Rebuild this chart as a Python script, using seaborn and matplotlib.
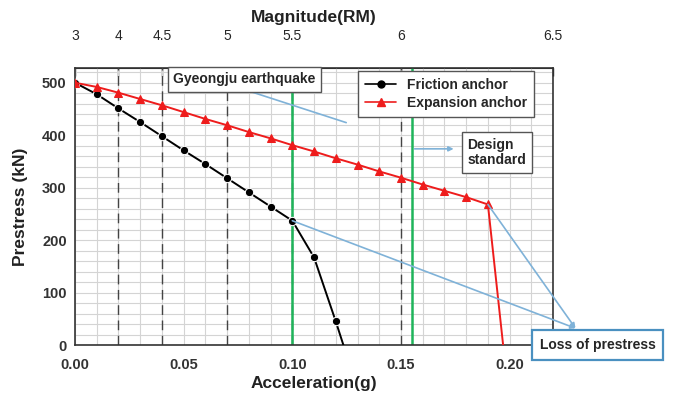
import numpy as np
import matplotlib
matplotlib.use("Agg")
import matplotlib.pyplot as plt
from matplotlib.lines import Line2D
import seaborn as sns

# acceleration (g) and prestress (kN)
friction_acc = [0.00, 0.01, 0.02, 0.03, 0.04, 0.05, 0.06, 0.07, 0.08, 0.09, 0.10, 0.11, 0.12, 0.1235]
friction_prestress = [500, 478, 451, 425, 398, 371, 345, 318, 291, 264, 237, 167, 45, 0]

expansion_acc = [0.00, 0.01, 0.02, 0.03, 0.04, 0.05, 0.06, 0.07, 0.08, 0.09, 0.10,
                 0.11, 0.12, 0.13, 0.14, 0.15, 0.16, 0.17, 0.18, 0.19, 0.197]
expansion_prestress = [500, 492, 481, 469, 457, 444, 431, 419, 406, 394, 381,
                       369, 356, 344, 331, 319, 306, 294, 282, 268, 0]

# magnitude scale on the top axis
magnitude_acc = [0.00, 0.02, 0.04, 0.07, 0.10, 0.15, 0.22]
magnitude_labels = ["3", "4", "4.5", "5", "5.5", "6", "6.5"]
dashed_acc = [0.02, 0.04, 0.07, 0.10, 0.15]

gyeongju_acc = 0.10
design_acc = 0.155

sns.set_style("white")
plt.rcParams['font.family'] = ['Liberation Sans', 'DejaVu Sans']

fig = plt.figure(figsize=(6.82, 3.98), dpi=100)
ax = fig.add_axes([0.110, 0.133, 0.701, 0.696])

ax.set_xlim(0, 0.22)
ax.set_ylim(0, 528)

# grid
ax.set_xticks(np.arange(0, 0.221, 0.05))
ax.set_xticks(np.arange(0, 0.221, 0.01), minor=True)
ax.set_yticks(np.arange(0, 501, 100))
ax.set_yticks(np.arange(0, 521, 20), minor=True)
ax.grid(which='both', color='#d4d4d4', linewidth=0.8)
ax.set_axisbelow(True)

for xv in dashed_acc:
    ax.axvline(xv, color='#444444', linestyle=(0, (7, 4)), linewidth=1.0, zorder=1)

green = '#1fb45a'
ax.axvline(gyeongju_acc, color=green, linewidth=1.8, zorder=2)
ax.axvline(design_acc, color=green, linewidth=1.8, zorder=2)

sns.lineplot(x=friction_acc, y=friction_prestress, ax=ax, color='black', linewidth=1.4,
             marker='o', markersize=6, markevery=list(range(len(friction_acc) - 1)),
             zorder=4, legend=False)
sns.lineplot(x=expansion_acc, y=expansion_prestress, ax=ax, color='#ee1c1c', linewidth=1.4,
             marker='^', markersize=5.5, markeredgecolor='#ee1c1c',
             markevery=list(range(len(expansion_acc) - 1)), zorder=4, legend=False)

for s in ax.spines.values():
    s.set_color('#333333')
    s.set_linewidth(1.2)

ax.tick_params(axis='both', which='minor', length=0)
ax.tick_params(axis='x', which='major', length=0, pad=9)
ax.tick_params(axis='y', which='major', length=0, pad=6)
for lbl in ax.get_xticklabels() + ax.get_yticklabels():
    lbl.set_fontweight('bold')
    lbl.set_fontsize(10.5)
    lbl.set_color('#333333')

ax.set_xlabel('Acceleration(g)', fontsize=12.5, fontweight='bold', labelpad=3, color='#222222')
ax.set_ylabel('Prestress (kN)', fontsize=12.5, fontweight='bold', labelpad=10, color='#222222')

# top magnitude axis
top = ax.secondary_xaxis('top')
top.set_xticks(magnitude_acc)
top.set_xticklabels(magnitude_labels, fontsize=10)
top.tick_params(direction='in', length=6, width=1, pad=18)
top.set_xlabel('Magnitude(RM)', fontsize=12.5, fontweight='bold', labelpad=5, color='#222222')

# legend
handles = [
    Line2D([], [], color='black', marker='o', markersize=5, linewidth=1.2),
    Line2D([], [], color='#ee1c1c', marker='^', markersize=5.5, linewidth=1.2),
]
leg = ax.legend(handles, ['Friction anchor', 'Expansion anchor'], loc='upper left',
                bbox_to_anchor=(0.578, 1.015), fancybox=False, framealpha=1,
                edgecolor='#555555', prop={'weight': 'bold', 'size': 10},
                handlelength=2.2, borderpad=0.5, labelspacing=0.3)
leg.set_zorder(6)

box_style = dict(boxstyle='square,pad=0.4', facecolor='white', edgecolor='#555555', linewidth=1.0)
arrow_color = '#7fb2d8'

ax.text(0.078, 507, 'Gyeongju earthquake', ha='center', va='center', fontsize=10,
        fontweight='bold', bbox=box_style, zorder=6)
ax.plot([0.0794, 0.1248], [485, 424], color=arrow_color, linewidth=1.2, zorder=3)

ax.text(0.1805, 367, 'Design\nstandard', ha='left', va='center', fontsize=10,
        fontweight='bold', bbox=box_style, zorder=6, linespacing=1.1)
ax.annotate('', xy=(0.1755, 374), xytext=(design_acc, 374),
            arrowprops=dict(arrowstyle='-|>', color=arrow_color, lw=1.2, mutation_scale=7), zorder=5)

tip = (0.2303, 32)
ax.annotate('', xy=tip, xytext=(expansion_acc[19], expansion_prestress[19]),
            arrowprops=dict(arrowstyle='-|>', color=arrow_color, lw=1.2, mutation_scale=7,
                            shrinkA=0, shrinkB=0), zorder=5, annotation_clip=False)
ax.annotate('', xy=tip, xytext=(friction_acc[10], friction_prestress[10]),
            arrowprops=dict(arrowstyle='-|>', color=arrow_color, lw=1.2, mutation_scale=7,
                            shrinkA=0, shrinkB=0), zorder=5, annotation_clip=False)
ax.text(0.2405, 0, 'Loss of prestress', ha='center', va='center', fontsize=10,
        fontweight='bold', zorder=7, clip_on=False,
        bbox=dict(boxstyle='square,pad=0.55', facecolor='white', edgecolor='#4a90c0', linewidth=1.6))

fig.savefig('out.png', dpi=100)
